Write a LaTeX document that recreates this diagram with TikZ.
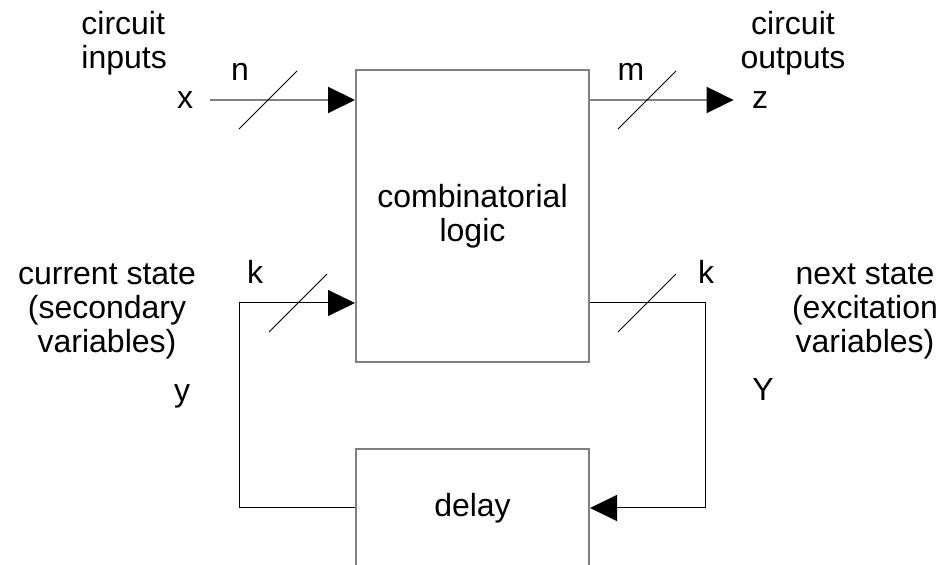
\documentclass[tikz,border=0pt]{standalone}
\usepackage{fontspec}
\setmainfont{Liberation Sans}
\usetikzlibrary{arrows.meta}
\tikzset{>={Triangle[length=13.5pt, width=13pt, color=black]}}
\definecolor{boxgray}{RGB}{128,128,128}

\begin{document}
\begin{tikzpicture}[x=.5pt, y=-.5pt, font=\fontsize{16}{17}\selectfont,
    block/.style={draw=boxgray, line width=1pt, minimum width=116.5pt, inner sep=0pt, align=center},
    txt/.style={inner sep=0pt, align=center},
    wire/.style={boxgray, line width=1pt},
    loopwire/.style={line width=.5pt},
    slash/.style={line width=.5pt}]
    \useasboundingbox (0,0) rectangle (952,565);
    \clip (0,0) rectangle (952,565);
    % blocks
    \node[block, minimum height=146pt](logic) at (472.5,216){combinatorial\\logic};
    \node[block, minimum height=59pt](delay) at (472.5,508){delay};
    % side texts
    \node[txt, align=left, anchor=west](inlbl) at (81,43){circuit\\inputs};
    \node[txt](outlbl) at (793,43){circuit\\outputs};
    \node[txt](curlbl) at (107,311){current state\\(secondary\\variables)};
    \node[txt](nextlbl) at (865,311){next state\\(excitation\\variables)};
    \node[txt](x) at (185,100){x};
    \node[txt](z) at (760,100){z};
    \node[txt](y) at (182,396){y};
    \node[txt](Y) at (763,389){Y};
    \node[txt](n) at (240,72){n};
    \node[txt](m) at (631,72){m};
    \node[txt](kin) at (255,272){k};
    \node[txt](kout) at (706,272){k};
    \coordinate(lcorner) at (239,303);
    \coordinate(rcorner) at (705,303);
    % inputs and outputs
    \draw[wire, ->, shorten <=8.5pt](x.east)--(x.east -| logic.west);
    \draw[wire, ->, shorten >=9pt](z.west -| logic.east)--(z.west);
    % state loop
    \draw[loopwire, ->](delay.west)-|(lcorner)--(lcorner -| logic.west);
    \draw[loopwire, ->](rcorner -| logic.east)--(rcorner)|-(delay.east);
    % bus widths
    \foreach \sx/\sy in {268/100, 647/100, 298/303, 647/303}
        \draw[slash](\sx-29, \sy+29)--(\sx+29, \sy-29);
\end{tikzpicture}
\end{document}
